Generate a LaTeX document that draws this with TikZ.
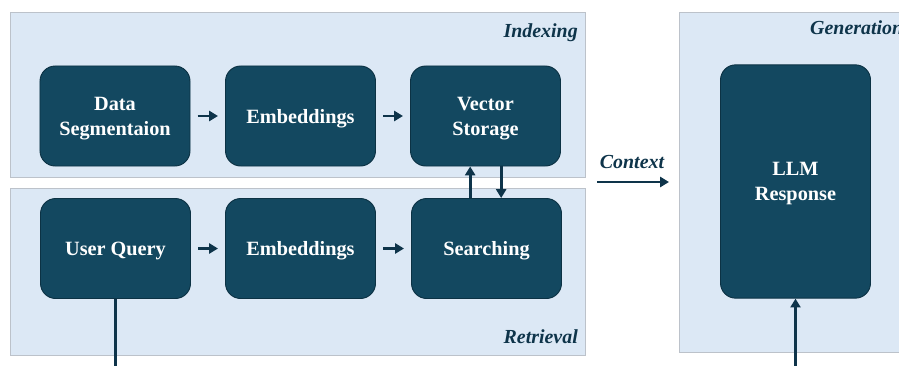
\documentclass[tikz,border=0pt]{standalone}
\usepackage{fontspec}
\setmainfont{Liberation Serif}
\usetikzlibrary{positioning,arrows.meta}

\definecolor{panelfill}{RGB}{220,232,245}
\definecolor{panelline}{RGB}{188,194,202}
\definecolor{boxfill}{RGB}{19,72,96}
\definecolor{boxline}{RGB}{12,50,68}
\definecolor{arrowcol}{RGB}{14,52,74}

\tikzset{
  panel/.style={fill=panelfill, draw=panelline, line width=0.8pt},
  panellabel/.style={font=\fontsize{17}{20}\selectfont\bfseries\itshape, text=arrowcol, inner sep=0pt},
  stagebox/.style={draw=boxline, fill=boxfill, rounded corners=13pt, line width=0.8pt,
    minimum width=4.5cm, minimum height=3cm, align=center, text=white, text depth=-9pt,
    font=\fontsize{17.3}{21.5}\selectfont\bfseries},
  flow/.style={-{Triangle[length=7.5pt,width=8.5pt]}, draw=arrowcol, line width=2.5pt},
}

\begin{document}
\begin{tikzpicture}[x=0.03cm, y=-0.03cm, >=Latex]
  \useasboundingbox (0,0) rectangle (899,365);
  \clip (0,0) rectangle (899,365);

  % the three panels
  \draw[panel] (10,12) rectangle (585,177);
  \draw[panel] (10,188) rectangle (585,355);
  \draw[panel] (679,12) rectangle (960,352);
  \node[panellabel, anchor=base east] (idx) at (578,37) {Indexing};
  \node[panellabel, anchor=base east] (ret) at (578,343) {Retrieval};
  \node[panellabel, anchor=base west] (gen) at (810,34) {Generation};

  % indexing row
  \node[stagebox] (seg) at (115,116) {Data\\Segmentaion};
  \node[stagebox] (emb1) at (300.5,116) {Embeddings};
  \node[stagebox] (vec) at (485.5,116) {Vector\\Storage};

  % retrieval row
  \node[stagebox] (query) at (115.5,248.5) {User Query};
  \node[stagebox] (emb2) at (300.5,248.5) {Embeddings};
  \node[stagebox] (search) at (486.5,248.5) {Searching};

  % generation
  \node[stagebox, minimum height=7cm] (llm) at (795.5,181.5) {LLM\\Response};

  \draw[flow, shorten <=6pt, shorten >=6pt] (seg) -- (emb1);
  \draw[flow, shorten <=6pt, shorten >=6pt] (emb1) -- (vec);
  \draw[flow, shorten <=6pt, shorten >=6pt] (query) -- (emb2);
  \draw[flow, shorten <=6pt, shorten >=6pt] (emb2) -- (search);

  \draw[flow] ([xshift=-0.49cm]search.north) -- ([xshift=-0.46cm]vec.south);
  \draw[flow] ([xshift=0.47cm]vec.south) -- ([xshift=0.44cm]search.north);

  % context hand-over
  \coordinate (ctxa) at (597,182);
  \coordinate (ctxb) at (669,182);
  \draw[flow] (ctxa) -- (ctxb);
  \node[panellabel, anchor=base] (ctx) at (632,168) {Context};

  % query goes down and comes back up into the LLM
  \coordinate (qout) at (115.5,375);
  \coordinate (lin) at (795.5,375);
  \draw[draw=arrowcol, line width=2.5pt] (query.south) -- (qout);
  \draw[flow] (lin) -- (llm.south);
\end{tikzpicture}
\end{document}
